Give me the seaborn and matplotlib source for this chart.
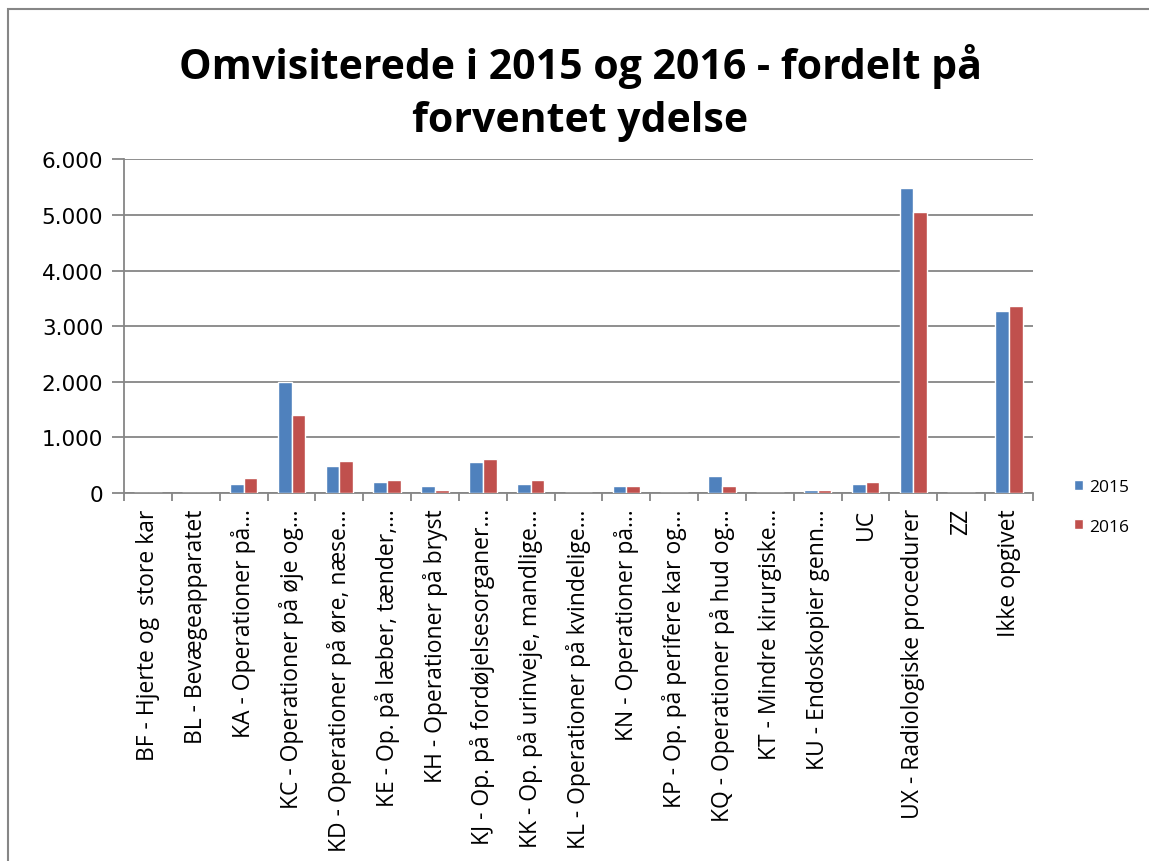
import pandas as pd
import matplotlib.pyplot as plt
import seaborn as sns
from matplotlib.ticker import FuncFormatter, MultipleLocator
from matplotlib.patches import Rectangle

kategorier = [
    "BF - Hjerte og  store kar",
    "BL - Bevægeapparatet",
    "KA - Operationer på…",
    "KC - Operationer på øje og…",
    "KD - Operationer på øre, næse…",
    "KE - Op. på læber, tænder,…",
    "KH - Operationer på bryst",
    "KJ - Op. på fordøjelsesorganer…",
    "KK - Op. på urinveje, mandlige…",
    "KL - Operationer på kvindelige…",
    "KN - Operationer på…",
    "KP - Op. på perifere kar og…",
    "KQ - Operationer på hud og…",
    "KT - Mindre kirurgiske…",
    "KU - Endoskopier genn…",
    "UC",
    "UX - Radiologiske procedurer",
    "ZZ",
    "Ikke opgivet",
]
antal_2015 = [0, 0, 155, 2000, 476, 190, 120, 548, 155, 0, 120, 0, 298, 0, 48, 155, 5478, 0, 3278]
antal_2016 = [0, 0, 262, 1405, 583, 226, 48, 619, 226, 0, 120, 0, 120, 0, 48, 190, 5047, 0, 3357]
aar = ["2015", "2016"]

df = pd.DataFrame({
    "kategori": kategorier * 2,
    "antal": antal_2015 + antal_2016,
    "år": [aar[0]] * len(kategorier) + [aar[1]] * len(kategorier),
})

sns.set_style("white")
plt.rcParams["font.family"] = ["Open Sans", "DejaVu Sans"]
plt.rcParams["text.color"] = "black"
plt.rcParams["xtick.color"] = "black"
plt.rcParams["ytick.color"] = "black"
grey = "#868686"

fig = plt.figure(figsize=(11.49, 8.62), dpi=100)
ax = fig.add_axes([0.108, 0.427, 0.791, 0.387])

sns.barplot(data=df, x="kategori", y="antal", hue="år",
            palette=["#4F81BD", "#C0504D"], saturation=1, width=0.573,
            ax=ax, zorder=3)

ax.set_ylim(0, 6000)
ax.set_xlim(-0.5, len(kategorier) - 0.5)
ax.yaxis.set_major_locator(MultipleLocator(1000))
ax.yaxis.set_major_formatter(FuncFormatter(lambda v, p: f"{v:,.0f}".replace(",", ".")))
ax.grid(axis="y", color=grey, linewidth=1.3, zorder=0)
ax.set_axisbelow(True)
for s in ["top", "right"]:
    ax.spines[s].set_visible(False)
for s in ["left", "bottom"]:
    ax.spines[s].set_color(grey)
    ax.spines[s].set_linewidth(1.3)

ax.set_xticks(range(len(kategorier)))
ax.set_xticklabels(kategorier, rotation=90, fontsize=16.5)
ax.set_xticks([i + 0.5 for i in range(-1, len(kategorier))], minor=True)
ax.tick_params(axis="x", which="major", length=0, pad=11, labelcolor="black")
ax.tick_params(axis="x", which="minor", length=6, width=1.3, color=grey, direction="out", bottom=True)
ax.tick_params(axis="y", length=9, width=1.3, color=grey, direction="out", left=True,
               labelsize=15.5, pad=6, labelcolor="black")
for lbl in ax.get_yticklabels():
    lbl.set_family("DejaVu Sans")
ax.set_xlabel("")
ax.set_ylabel("")

fig.text(0.505, 0.923, "Omvisiterede i 2015 og 2016 - fordelt på", ha="center", va="center",
         fontsize=29.5, fontweight="bold", color="black")
fig.text(0.505, 0.859, "forventet ydelse", ha="center", va="center",
         fontsize=29.5, fontweight="bold", color="black")

handles, labels = ax.get_legend_handles_labels()
leg = ax.legend(handles, labels, loc="center left", bbox_to_anchor=(0.921, 0.411),
                bbox_transform=fig.transFigure, frameon=False, fontsize=12.5,
                handlelength=0.5, handleheight=0.5, handletextpad=0.4, labelspacing=1.36)
for t in leg.get_texts():
    t.set_color("black")

fig.patches.append(Rectangle((8 / 1149, -0.01), 1.05, 1 - 10 / 862 + 0.01, transform=fig.transFigure,
                             fill=False, edgecolor=grey, linewidth=1.5))

fig.savefig("out.png", dpi=100)
